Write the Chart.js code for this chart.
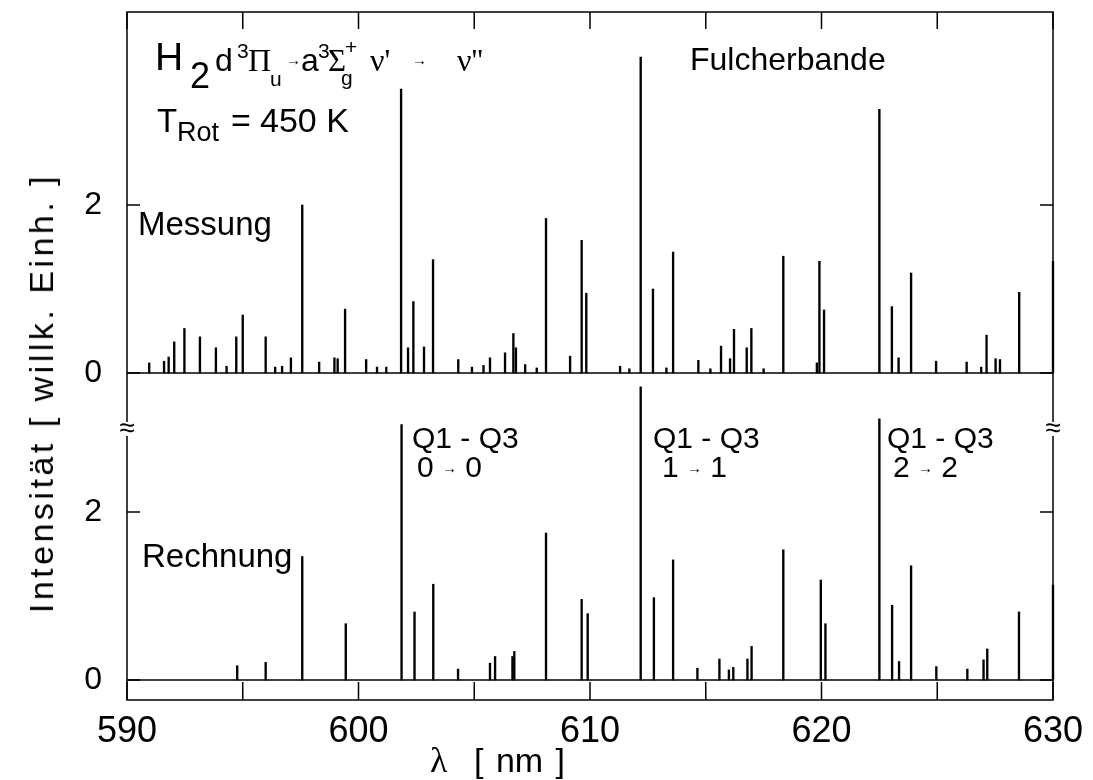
<!DOCTYPE html>
<html>
<head>
<meta charset="utf-8">
<title>H2 Fulcherbande</title>
<script src="https://cdn.jsdelivr.net/npm/chart.js@4.4.1/dist/chart.umd.min.js"></script>
<style>
  html, body { margin: 0; padding: 0; background: #fff; }
  #wrap { position: relative; width: 1093px; height: 780px; font-family: "Liberation Sans", Arial, sans-serif; color: #000; }
  #wrap canvas { position: absolute; left: 0; top: 0; }
  .t { position: absolute; white-space: nowrap; line-height: 1; }
  .serif { font-family: "Liberation Serif", "DejaVu Serif", serif; }
  .arr { font-size: 0.5em; vertical-align: 0.3em; }
</style>
</head>
<body>
<div id="wrap"><canvas id="chart" width="1093" height="780"></canvas></div>
<script>
// wavelength range and y tick values
const xRange = [590, 630];
const yTicks = [0, 2];

// Messung (measured spectrum): line positions [nm] and intensities
const messungNm = [590.96, 591.6, 591.8, 592.04, 592.48, 593.15, 593.84, 594.3, 594.72, 595.0,
  595.99, 596.4, 596.7, 597.08, 597.57, 598.3, 598.96, 599.1, 599.42, 600.33,
  600.8, 601.2, 601.84, 602.14, 602.37, 602.83, 603.22, 604.31, 604.9, 605.4,
  605.68, 606.33, 606.69, 606.8, 607.2, 607.7, 608.1, 609.14, 609.64, 609.84,
  611.3, 611.7, 612.19, 612.72, 613.3, 613.59, 614.68, 615.2, 615.66, 616.05,
  616.22, 616.77, 616.97, 617.5, 618.35, 619.8, 619.91, 620.11, 622.5, 623.04,
  623.33, 623.87, 624.95, 626.27, 626.9, 627.13, 627.52, 627.71, 628.54, 630.0];
const messungInt = [0.12, 0.14, 0.19, 0.37, 0.53, 0.43, 0.30, 0.08, 0.43, 0.69,
  0.43, 0.07, 0.08, 0.18, 2.0, 0.13, 0.18, 0.17, 0.76, 0.16,
  0.07, 0.07, 3.38, 0.30, 0.85, 0.31, 1.35, 0.16, 0.07, 0.09,
  0.18, 0.24, 0.47, 0.30, 0.10, 0.06, 1.84, 0.20, 1.58, 0.95,
  0.08, 0.05, 3.76, 1.0, 0.06, 1.44, 0.15, 0.05, 0.32, 0.17,
  0.52, 0.30, 0.53, 0.05, 1.39, 0.12, 1.33, 0.75, 3.14, 0.79,
  0.18, 1.19, 0.14, 0.13, 0.07, 0.45, 0.17, 0.16, 0.96, 1.33];

// Rechnung (calculated spectrum)
const rechnungNm = [594.76, 595.99, 597.57, 599.45, 601.86, 602.42, 603.23, 604.3, 605.68, 605.9,
  606.65, 606.73, 608.1, 609.64, 609.9, 612.19, 612.76, 613.59, 614.64, 615.59,
  616.0, 616.19, 616.8, 616.98, 618.35, 619.97, 620.17, 622.5, 623.05, 623.35,
  623.87, 624.96, 626.3, 627.0, 627.16, 628.53, 630.0];
const rechnungInt = [0.17, 0.21, 1.47, 0.67, 3.04, 0.81, 1.14, 0.13, 0.20, 0.28,
  0.28, 0.34, 1.75, 0.96, 0.79, 3.49, 0.98, 1.43, 0.14, 0.25,
  0.12, 0.15, 0.25, 0.40, 1.55, 1.19, 0.67, 3.11, 0.89, 0.22,
  1.36, 0.16, 0.13, 0.24, 0.37, 0.81, 1.13];

const FONT = '"Liberation Sans", Arial, sans-serif';

const toPoints = (xs, ys) => xs.map((x, i) => ({x, y: ys[i]}));
const baseline = xRange.map(x => ({x, y: 0}));

// frame, inward ticks and axis break marks
const framePlugin = {
  id: 'frame',
  afterDraw(chart) {
    const {ctx, chartArea: a, scales} = chart;
    const line = (x1, y1, x2, y2) => { ctx.beginPath(); ctx.moveTo(x1, y1); ctx.lineTo(x2, y2); ctx.stroke(); };
    ctx.save();
    ctx.strokeStyle = '#000';
    ctx.lineWidth = 1.5;
    ctx.strokeRect(a.left, a.top, a.right - a.left, a.bottom - a.top);
    scales.x.ticks.forEach(t => {
      const px = scales.x.getPixelForValue(t.value);
      line(px, a.top, px, a.top + 17);
      line(px, a.bottom, px, a.bottom - 18);
    });
    [scales.yTop, scales.yBottom].forEach(s => s.ticks.forEach(t => {
      const py = s.getPixelForValue(t.value);
      line(a.left, py, a.left + 13, py);
      line(a.right, py, a.right - 13, py);
    }));
    const yb = scales.yTop.bottom;
    ctx.font = '28px ' + FONT;
    ctx.textAlign = 'center';
    ctx.textBaseline = 'middle';
    [a.left, a.right].forEach(px => {
      ctx.fillStyle = '#fff';
      ctx.fillRect(px - 2, yb - 7, 4, 14);
      ctx.fillStyle = '#000';
      ctx.fillText('\u2248', px, yb);
    });
    ctx.restore();
  }
};

const yAxis = (weight, min, max) => ({
  type: 'linear',
  position: 'left',
  stack: 'panels',
  stackWeight: weight,
  min, max,
  clip: false,
  grid: {display: false},
  border: {display: false},
  afterBuildTicks: s => { s.ticks = yTicks.map(v => ({value: v})); },
  afterFit: s => { s.width = 127; s.paddingTop = 0; s.paddingBottom = 0; },
  ticks: {
    padding: 17,
    color: '#000',
    font: {family: FONT, size: 32},
    callback: v => String(v)
  }
});

new Chart(document.getElementById('chart'), {
  type: 'bar',
  data: {
    datasets: [
      {label: 'Messung', data: toPoints(messungNm, messungInt), yAxisID: 'yTop',
       backgroundColor: '#000', barThickness: 1.7, grouped: false, clip: false},
      {label: 'Rechnung', data: toPoints(rechnungNm, rechnungInt), yAxisID: 'yBottom',
       backgroundColor: '#000', barThickness: 1.7, grouped: false, clip: false},
      {type: 'line', data: baseline, yAxisID: 'yTop', borderColor: '#000', borderWidth: 1.5, pointRadius: 0},
      {type: 'line', data: baseline, yAxisID: 'yBottom', borderColor: '#000', borderWidth: 1.5, pointRadius: 0}
    ]
  },
  options: {
    responsive: false,
    animation: false,
    layout: {padding: {left: 0, right: 40, top: 12, bottom: 0}},
    plugins: {legend: {display: false}, tooltip: {enabled: false}},
    scales: {
      x: {
        type: 'linear',
        min: xRange[0], max: xRange[1],
        offset: false,
        grid: {display: false, offset: false},
        border: {display: false},
        afterFit: s => { s.height = 80; s.paddingLeft = 0; s.paddingRight = 0; },
        ticks: {
          stepSize: 5,
          autoSkip: false,
          maxRotation: 0,
          padding: 2,
          color: '#000',
          font: {family: FONT, size: 36},
          callback: v => (v % 10 === 0 ? String(v) : '')
        }
      },
      yBottom: yAxis(271, -0.238, 2.988),
      yTop: yAxis(417, -0.667, 4.298)
    }
  },
  plugins: [framePlugin]
});

// text annotations (HTML overlay)
const wrap = document.getElementById('wrap');
function put(html, left, base, size, cls) {
  const d = document.createElement('div');
  d.className = 't' + (cls ? ' ' + cls : '');
  d.style.left = left + 'px';
  d.style.top = (base - 0.845 * size) + 'px';
  d.style.fontSize = size + 'px';
  d.innerHTML = html;
  wrap.appendChild(d);
  return d;
}

put('H', 155, 70, 39);
put('2', 190, 88, 36);
put('d', 215, 71, 32);
put('3', 237, 58, 21);
put('\u03A0', 248, 71, 32, 'serif');
put('u', 270, 86, 21);
put('\u2192', 286, 65, 15);
put('a', 301, 71, 32);
put('3', 318, 58, 21);
put('\u03A3', 328, 71, 31, 'serif');
put('+', 345, 54, 21);
put('g', 341, 85, 21);
put('\u03BD\'', 370, 71, 32, 'serif');
put('\u2192', 412, 65, 15);
put('\u03BD\'\'', 457, 71, 32, 'serif');
put('Fulcherbande', 690, 70, 32);

put('T', 157, 132, 33);
put('Rot', 177, 142, 27);
put('=', 231, 132, 34);
put('450 K', 260, 132, 34);

put('Messung', 138, 235, 33);
put('Rechnung', 142, 567, 33);

put('Q1 - Q3', 412, 448, 30);
put('0 <span class="arr">\u2192</span> 0', 417, 477, 30);
put('Q1 - Q3', 653, 448, 30);
put('1 <span class="arr">\u2192</span> 1', 662, 477, 30);
put('Q1 - Q3', 887, 448, 30);
put('2 <span class="arr">\u2192</span> 2', 893, 477, 30);

put('\u03BB', 430, 772, 36, 'serif');
put('[ nm ]', 474, 772, 34).style.wordSpacing = '3px';

const yt = put('Intensit\u00E4t [ willk. Einh. ]', 41, 393, 34);
yt.style.top = '393px';
yt.style.letterSpacing = '3.5px';
yt.style.transform = 'translate(-50%, -50%) rotate(-90deg)';
</script>
</body>
</html>
